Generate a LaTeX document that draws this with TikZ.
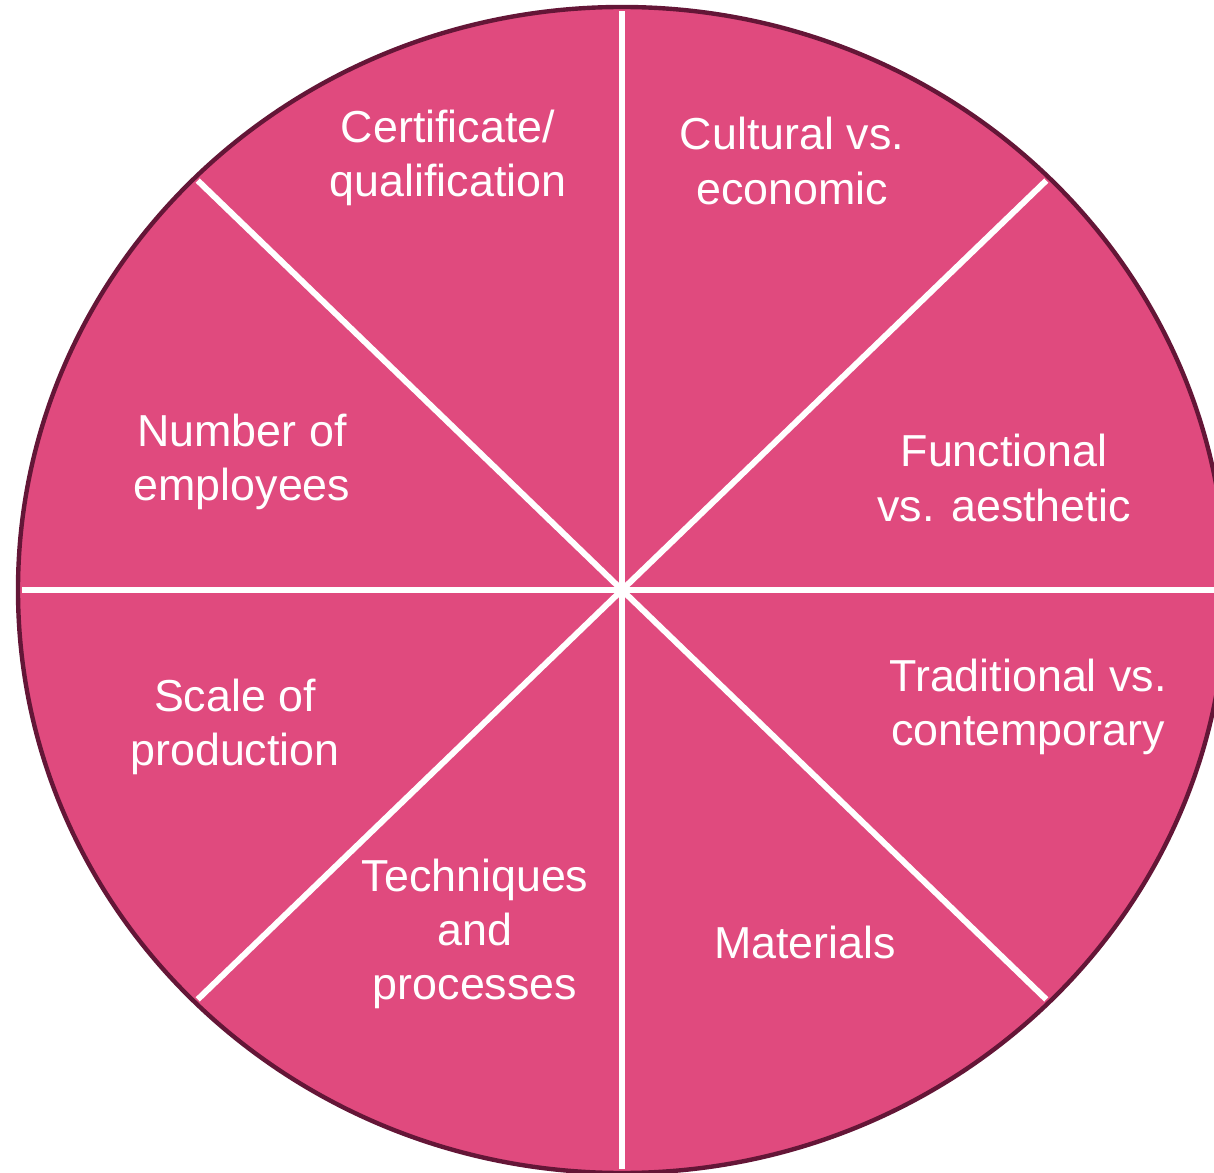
\documentclass[tikz,border=0pt]{standalone}
\usepackage{fontspec}
\setmainfont{Liberation Sans}
\definecolor{wheelpink}{RGB}{224,74,126}
\definecolor{wheelrim}{RGB}{100,22,55}
\begin{document}
\begin{tikzpicture}[
        x=0.5pt,
        y=0.5pt,
        wheel/.style={fill=wheelpink, draw=wheelrim, line width=2.2pt},
        spoke/.style={draw=white, line width=3pt},
        seglabel/.style={text=white, align=center, inner sep=0pt, font=\fontsize{22.4}{27.2}\selectfont}
    ]
    \useasboundingbox (-622,-582) rectangle (592,590);
    \clip (-622,-582) rectangle (592,590);
    \filldraw[wheel] (0,0) ellipse [x radius=604, y radius=583];
    \foreach \a in {0,45,...,315} {
        \draw[spoke] (0,0) -- ({600*cos(\a)},{579*sin(\a)});
    }
    \node[seglabel] (cert) at (-174,432) {Certificate/\\qualification};
    \node[seglabel] (cult) at (170,429) {Cultural vs.\\economic};
    \node[seglabel] (func) at (382,112) {Functional\\vs. aesthetic};
    \node[seglabel] (trad) at (406,-117) {Traditional vs.\\contemporary};
    \node[seglabel] (mat) at (183,-352) {Materials};
    \node[seglabel] (tech) at (-147,-344) {Techniques\\and\\processes};
    \node[seglabel] (scale) at (-387,-137) {Scale of\\production};
    \node[seglabel] (staff) at (-380,128) {Number of\\employees};
\end{tikzpicture}
\end{document}
